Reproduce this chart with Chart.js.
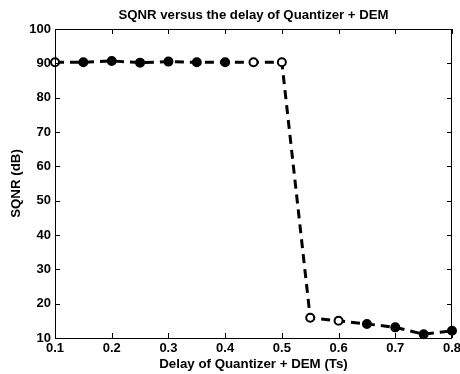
<!DOCTYPE html>
<html>
<head>
<meta charset="utf-8">
<script src="https://cdn.jsdelivr.net/npm/chart.js@4.4.0/dist/chart.umd.min.js"></script>
<style>
  html, body { margin: 0; padding: 0; background: #fff; }
  #wrap { width: 460px; height: 374px; }
</style>
</head>
<body>
<div id="wrap"><canvas id="myChart" width="460" height="374"></canvas></div>
<script>
let delays = [0.1, 0.15, 0.2, 0.25, 0.3, 0.35, 0.4, 0.45, 0.5, 0.55, 0.6, 0.65, 0.7, 0.75, 0.8];
let sqnr = [90.3, 90.3, 90.7, 90.2, 90.5, 90.3, 90.3, 90.3, 90.3, 15.9, 15.0, 14.1, 13.1, 11.1, 12.1];
let hollow = [true, false, false, false, false, false, false, true, true, true, true, false, false, false, false];
let xTicks = [0.1, 0.2, 0.3, 0.4, 0.5, 0.6, 0.7, 0.8];
let yTicks = [10, 20, 30, 40, 50, 60, 70, 80, 90, 100];

const fontFamily = '"Liberation Sans", Arial, sans-serif';

// matlab style box with inward ticks
const boxPlugin = {
    id: 'box',
    afterDraw(chart) {
        const ctx = chart.ctx;
        const a = chart.chartArea;
        const xs = chart.scales.x;
        const ys = chart.scales.y;
        ctx.save();
        ctx.strokeStyle = '#000';
        ctx.lineWidth = 1;
        ctx.strokeRect(a.left + 0.5, a.top + 0.5, a.right - a.left - 1, a.bottom - a.top);
        ctx.beginPath();
        xTicks.forEach(function (v) {
            let px = Math.round(xs.getPixelForValue(v)) + 0.5;
            ctx.moveTo(px, a.bottom); ctx.lineTo(px, a.bottom - 5);
            ctx.moveTo(px, a.top); ctx.lineTo(px, a.top + 5);
        });
        yTicks.forEach(function (v) {
            let py = Math.round(ys.getPixelForValue(v)) + 0.5;
            ctx.moveTo(a.left, py); ctx.lineTo(a.left + 5, py);
            ctx.moveTo(a.right, py); ctx.lineTo(a.right - 5, py);
        });
        ctx.stroke();
        ctx.restore();
    }
};

let points = delays.map(function (d, i) { return { x: d, y: sqnr[i] }; });

new Chart(document.getElementById('myChart').getContext('2d'), {
    type: 'line',
    data: {
        datasets: [{
            data: points,
            borderColor: '#000',
            borderWidth: 3,
            borderDash: [9, 6],
            pointRadius: 4,
            pointBorderWidth: 2,
            pointBorderColor: '#000',
            pointBackgroundColor: hollow.map(function (h) { return h ? '#fff' : '#000'; }),
            tension: 0,
            clip: false
        }]
    },
    options: {
        responsive: false,
        animation: false,
        layout: { padding: { top: 0, right: 8, bottom: 2, left: 0 } },
        plugins: {
            legend: { display: false },
            tooltip: { enabled: false },
            title: { display: false }
        },
        scales: {
            x: {
                type: 'linear',
                min: 0.1,
                max: 0.8,
                afterBuildTicks: function (s) { s.ticks = xTicks.map(function (v) { return { value: v }; }); },
                afterFit: function (s) { s.height = 34; s.paddingRight = 0; s.paddingLeft = 0; },
                grid: { display: false, drawTicks: false },
                border: { display: false },
                ticks: {
                    color: '#000',
                    padding: 3,
                    maxRotation: 0,
                    autoSkip: false,
                    font: { family: fontFamily, size: 13, weight: 'bold' },
                    callback: function (v) { return v.toFixed(1); }
                },
                title: {
                    display: true,
                    text: 'Delay of Quantizer + DEM (Ts)',
                    color: '#000',
                    font: { family: fontFamily, size: 13.3, weight: 'bold' },
                    padding: { top: 1, bottom: 0 }
                }
            },
            // top axis only carries the plot title, centred over the axes box
            xTop: {
                type: 'linear',
                position: 'top',
                min: 0.1,
                max: 0.8,
                afterFit: function (s) { s.height = 29; s.paddingRight = 0; s.paddingLeft = 0; },
                grid: { display: false, drawTicks: false },
                border: { display: false },
                ticks: { display: false },
                title: {
                    display: true,
                    text: 'SQNR versus the delay of Quantizer + DEM',
                    color: '#000',
                    font: { family: fontFamily, size: 13.2, weight: 'bold' },
                    padding: { top: 7, bottom: 6 }
                }
            },
            y: {
                min: 10,
                max: 100,
                afterBuildTicks: function (s) { s.ticks = yTicks.map(function (v) { return { value: v }; }); },
                afterFit: function (s) { s.width = 55; s.paddingTop = 0; s.paddingBottom = 0; },
                grid: { display: false, drawTicks: false },
                border: { display: false },
                ticks: {
                    color: '#000',
                    padding: 4,
                    font: { family: fontFamily, size: 13, weight: 'bold' }
                },
                title: {
                    display: true,
                    text: 'SQNR (dB)',
                    color: '#000',
                    font: { family: fontFamily, size: 13.3, weight: 'bold' },
                    padding: { top: 8, bottom: 0 }
                }
            }
        }
    },
    plugins: [boxPlugin]
});
</script>
</body>
</html>
